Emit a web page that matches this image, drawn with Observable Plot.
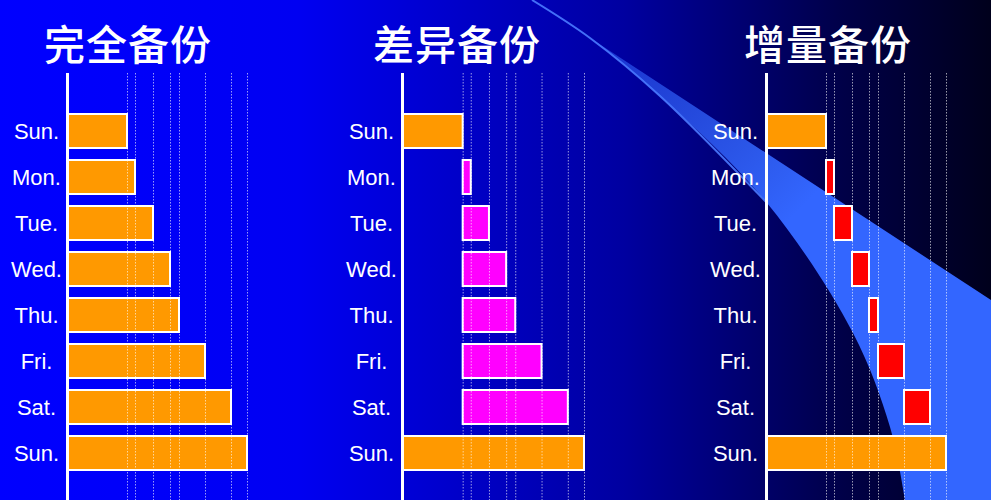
<!DOCTYPE html>
<html>
<head>
<meta charset="utf-8">
<script src="https://cdn.jsdelivr.net/npm/d3@7"></script>
<script src="https://cdn.jsdelivr.net/npm/@observablehq/plot@0.6"></script>
<style>
  html, body { margin: 0; padding: 0; }
  #stage {
    position: relative; width: 991px; height: 500px; overflow: hidden;
    background: linear-gradient(to right, #0000ff 0%, #0000f2 30%, #0000c0 50%, #0000a0 63%, #000048 85%, #00001c 100%);
    font-family: "Liberation Sans", Arial, sans-serif;
  }
  #deco { position: absolute; left: 0; top: 0; }
  .title {
    position: absolute; top: 20px; width: 240px; text-align: center;
    font-family: "Noto Sans CJK SC", sans-serif; font-weight: 500;
    font-size: 41px; line-height: 44px; color: white; letter-spacing: 1px;
  }
  .panel { position: absolute; top: 0; }
</style>
</head>
<body>
<div id="stage"></div>
<script>
// ---- data ----
const days = ["Sun.", "Mon.", "Tue.", "Wed.", "Thu.", "Fri.", "Sat.", "Sun."];
// total amount of data on each day (full backup size); grid lines sit at these values
const dataSize = [60, 68, 86, 103, 112, 138, 164, 180];
const titles = ["完全备份", "差异备份", "增量备份"];
const kinds = ["full", "diff", "inc"];
const barColors = { full: "#ff9900", diff: "#ff00ff", inc: "#ff0000" };

// ---- layout of the three panels ----
const panelLeft = [0, 335, 699];
const panelRangeEnd = [247, 249, 247];
const titleCenter = [128, 457, 828];

const stage = document.getElementById("stage");

// decorative background swoosh
const ns = "http://www.w3.org/2000/svg";
const deco = document.createElementNS(ns, "svg");
deco.setAttribute("id", "deco");
deco.setAttribute("width", 991);
deco.setAttribute("height", 500);
const lower = [[905, 500], [890, 427], [853, 333], [767, 203], [660, 96], [590, 38], [532, 0]];
const lowerPath = d3.line().curve(d3.curveCatmullRom)(lower);
deco.innerHTML = `
  <defs>
    <linearGradient id="sw" gradientUnits="userSpaceOnUse" x1="540" y1="0" x2="780" y2="230">
      <stop offset="0" stop-color="#3366ff" stop-opacity="0.35"/>
      <stop offset="1" stop-color="#3366ff" stop-opacity="1"/>
    </linearGradient>
  </defs>
  <path d="M532,0L991,300L991,500L905,500${lowerPath.replace(/^M[^CL]*/, "")}Z" fill="url(#sw)"/>
  <path d="${d3.line().curve(d3.curveCatmullRom)(lower.slice(3))}" fill="none" stroke="#4a7aff" stroke-width="2" stroke-opacity="0.9"/>
`;
stage.appendChild(deco);

function rowsFor(kind) {
  return dataSize.map((v, i) => {
    if (kind === "full" || i === 0 || i === dataSize.length - 1) return { row: i, x1: 0, x2: v, type: "full" };
    if (kind === "diff") return { row: i, x1: dataSize[0], x2: v, type: "diff" };
    return { row: i, x1: dataSize[i - 1], x2: v, type: "inc" };
  });
}

kinds.forEach((kind, p) => {
  const t = document.createElement("div");
  t.className = "title";
  t.style.left = (titleCenter[p] - 120) + "px";
  t.textContent = titles[p];
  stage.appendChild(t);

  const rows = rowsFor(kind);
  const chart = Plot.plot({
    width: 320,
    height: 500,
    marginTop: 73,
    marginBottom: 0,
    marginLeft: 67,
    marginRight: 20,
    style: { background: "transparent", color: "white", fontSize: "22px", fontFamily: "'Liberation Sans', Arial, sans-serif", overflow: "visible" },
    x: { domain: [0, 180], range: [67, panelRangeEnd[p]], axis: null },
    y: { type: "band", domain: d3.range(days.length), range: [101, 484], padding: 0.255, axis: null, label: null },
    color: { domain: Object.keys(barColors), range: Object.values(barColors) },
    marks: [
      Plot.barX(rows, { y: "row", x1: "x1", x2: "x2", fill: "type", stroke: "white", strokeWidth: 2 }),
      Plot.ruleX(dataSize, { stroke: "white", strokeOpacity: 0.6, strokeDasharray: "1.5,1.5", strokeWidth: 1 }),
      Plot.ruleX([0], { stroke: "white", strokeWidth: 3 }),
      Plot.axisY({ tickSize: 0, tickPadding: 31, textAnchor: "middle", label: null, tickFormat: i => days[i], fontSize: 22, fill: "white" })
    ]
  });
  chart.classList.add("panel");
  chart.style.left = panelLeft[p] + "px";
  stage.appendChild(chart);
});
</script>
</body>
</html>
